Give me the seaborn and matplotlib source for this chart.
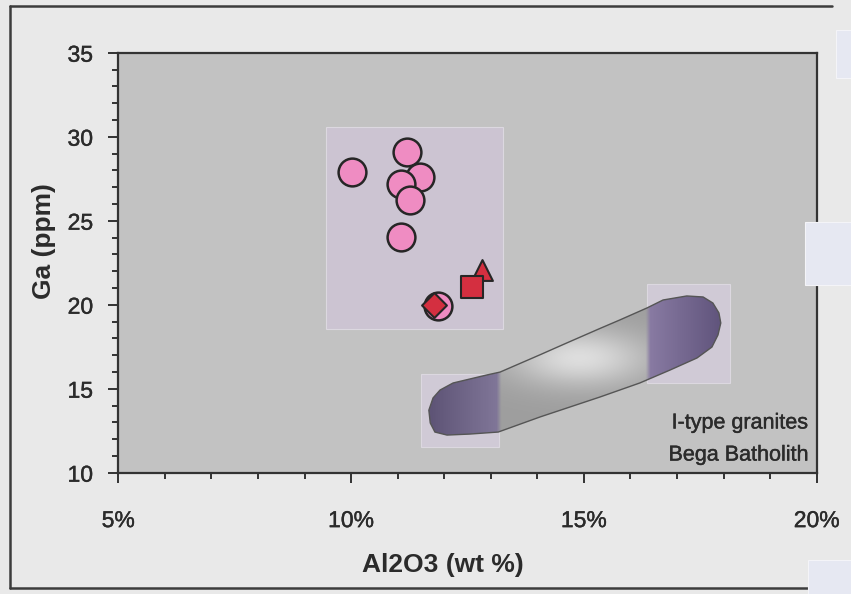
import numpy as np
import pandas as pd
import matplotlib
matplotlib.use("Agg")
import matplotlib.pyplot as plt
import matplotlib.patheffects as pe
from matplotlib.patches import Polygon, Rectangle
from matplotlib.lines import Line2D
from matplotlib.ticker import FixedLocator, MultipleLocator
import seaborn as sns

# --- data -------------------------------------------------------------
# granite samples (pink circles)
circle_al2o3 = [10.01, 11.21, 11.48, 11.07, 11.27, 11.07, 11.86]
circle_ga = [27.88, 29.07, 27.62, 27.17, 26.23, 24.05, 19.94]

# other samples (red symbols)
diamond_al2o3 = [11.77]
diamond_ga = [19.98]
square_al2o3 = [12.59]
square_ga = [21.04]
triangle_al2o3 = [12.81]
triangle_ga = [22.07]

# outline of the I-type granite field (Bega Batholith)
field_al2o3 = [11.67, 11.70, 11.80, 12.06, 12.55, 13.16, 14.06, 15.35, 16.20,
               16.85, 17.43, 17.75, 17.88, 17.94, 17.90, 17.77, 17.56, 17.21,
               16.70, 16.35, 15.77, 15.34, 14.63, 14.05, 13.20, 12.92, 12.19,
               11.91, 11.76]
field_ga = [13.72, 12.96, 12.42, 12.24, 12.30, 12.42, 13.32, 14.51, 15.34,
            16.11, 16.83, 17.48, 18.20, 18.91, 19.51, 20.10, 20.46, 20.52,
            20.28, 19.80, 19.09, 18.58, 17.72, 17.01, 15.99, 15.82, 15.34,
            14.92, 14.45]

field_label = ["I-type granites", "Bega Batholith"]
x_ticks = [5, 10, 15, 20]
x_tick_labels = ["5%", "10%", "15%", "20%"]
y_ticks = [10, 15, 20, 25, 30, 35]
x_title = "Al2O3 (wt %)"
y_title = "Ga (ppm)"

# --- style ------------------------------------------------------------
sns.set_theme(style="ticks")
plt.rcParams["font.family"] = ["Liberation Sans", "DejaVu Sans"]
TEXT = "#2b2b2b"
EDGE = "#262626"
PINK = "#ef8cc2"
RED = "#d42f40"
medium = [pe.withStroke(linewidth=0.3, foreground=TEXT)]

W, H = 851, 594
fig = plt.figure(figsize=(W / 100, H / 100), dpi=100, facecolor="#e9e9e9")
left, right, top, bottom = 118.3, 816.7, 52.7, 472.7
ax = fig.add_axes([left / W, 1 - bottom / H, (right - left) / W, (bottom - top) / H])
ax.set_facecolor("#c2c2c2")
ax.set_xlim(5, 20)
ax.set_ylim(10, 35)

# pale backing panels
panel_kw = dict(lw=0.8, ec="#dcd8e0", zorder=1)
ax.add_patch(Rectangle((9.46, 18.54), 13.26 - 9.46, 30.58 - 18.54, fc="#ccc4d2", **panel_kw))
ax.add_patch(Rectangle((11.50, 11.52), 13.18 - 11.50, 15.87 - 11.52, fc="#d0cad6", **panel_kw))
ax.add_patch(Rectangle((16.36, 15.34), 18.14 - 16.36, 21.23 - 15.34, fc="#d0cad6", **panel_kw))

# granite field with shaded fill
outline = np.column_stack([field_al2o3, field_ga])
gx = np.linspace(11.5, 18.1, 500)
gy = np.linspace(12.0, 20.7, 300)
X, Y = np.meshgrid(gx, gy)
grey = 158 + 64 * np.exp(-(((X - 14.9) / 1.5) ** 2 + ((Y - 16.8) / 1.7) ** 2))
img = np.stack([grey, grey, grey], axis=-1)
lt = np.clip((X - 11.6) / (13.2 - 11.6), 0, 1)
lp = np.stack([92 + 38 * lt, 82 + 38 * lt, 116 + 38 * lt], axis=-1)
rt = np.clip((X - 16.36) / (17.95 - 16.36), 0, 1)
rp = np.stack([138 - 42 * rt, 124 - 40 * rt, 164 - 40 * rt], axis=-1)
wl = np.clip((13.22 - X) / 0.1, 0, 1)[..., None]
wr = np.clip((X - 16.32) / 0.1, 0, 1)[..., None]
img = img * (1 - wl) + lp * wl
img = img * (1 - wr) + rp * wr
field = Polygon(outline, closed=True, fc="none", ec="#555555", lw=1.0, zorder=3)
ax.add_patch(field)
im = ax.imshow(np.clip(img, 0, 255).astype(np.uint8), extent=[gx[0], gx[-1], gy[0], gy[-1]],
               origin="lower", aspect="auto", interpolation="bilinear", zorder=2)
im.set_clip_path(field)

# samples
sns.scatterplot(x=circle_al2o3, y=circle_ga, ax=ax, marker="o", s=400, color=PINK,
                edgecolor=EDGE, linewidth=1.8, zorder=4, legend=False)
sns.scatterplot(x=triangle_al2o3, y=triangle_ga, ax=ax, marker="^", s=225, color=RED,
                edgecolor=EDGE, linewidth=1.5, zorder=5, legend=False)
sns.scatterplot(x=square_al2o3, y=square_ga, ax=ax, marker="s", s=255, color=RED,
                edgecolor=EDGE, linewidth=1.5, zorder=6, legend=False)
sns.scatterplot(x=diamond_al2o3, y=diamond_ga, ax=ax, marker="D", s=160, color=RED,
                edgecolor=EDGE, linewidth=1.5, zorder=7, legend=False)

for yv, line in zip([12.96, 11.05], field_label):
    ax.text(19.81, yv, line, ha="right", va="center", fontsize=15.5, color=TEXT,
            zorder=8, path_effects=medium)

# axes, ticks and labels
for s in ax.spines.values():
    s.set_visible(True)
    s.set_color("#333333")
    s.set_linewidth(1.6)
ax.xaxis.set_major_locator(FixedLocator(x_ticks))
ax.set_xticklabels(x_tick_labels)
ax.xaxis.set_minor_locator(MultipleLocator(1))
ax.yaxis.set_major_locator(FixedLocator(y_ticks))
ax.yaxis.set_minor_locator(MultipleLocator(1))
ax.tick_params(which="major", direction="out", length=7.2, width=1.4, color="#333333",
               labelsize=16.5, labelcolor=TEXT)
ax.tick_params(which="minor", direction="out", length=4.3, width=1.4, color="#333333")
ax.tick_params(axis="x", which="major", pad=19)
ax.tick_params(axis="y", which="major", pad=11)
ax.grid(False)
for lab in ax.get_xticklabels() + ax.get_yticklabels():
    lab.set_path_effects(medium)

ax.set_xlabel(x_title, fontsize=19, fontweight="bold", color=TEXT, va="center")
ax.xaxis.set_label_coords(0.465, -0.22)
ax.set_ylabel(y_title, fontsize=19, fontweight="bold", color=TEXT, va="center")
ax.yaxis.set_label_coords(-0.107, 0.552)

# outer frame
fk = dict(color="#3c3c3c", lw=1.8, transform=fig.transFigure)
fig.add_artist(Line2D([10 / W, 832 / W], [1 - 6 / H, 1 - 6 / H], **fk))
fig.add_artist(Line2D([10 / W, 808 / W], [1 - 588 / H, 1 - 588 / H], **fk))
fig.add_artist(Line2D([10 / W, 10 / W], [1 - 6 / H, 1 - 588 / H], **fk))

# faint tinted panels at the right margin
for (px, py, pw, ph) in [(836, 30, 20, 48), (805, 222, 50, 63), (808, 560, 50, 40)]:
    fig.add_artist(Rectangle((px / W, 1 - (py + ph) / H), pw / W, ph / H,
                             transform=fig.transFigure, fc="#e6e8f2", ec="#f4f4f8",
                             lw=0.8, zorder=10))

fig.savefig("out.png", dpi=100, facecolor=fig.get_facecolor())
